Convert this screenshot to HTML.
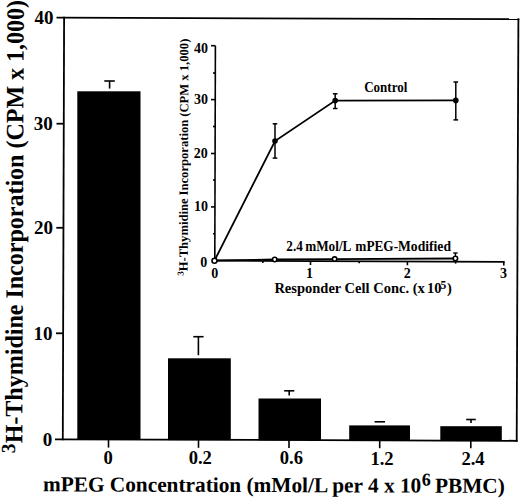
<!DOCTYPE html>
<html><head><meta charset="utf-8">
<style>
html,body{margin:0;padding:0;background:#fff;width:520px;height:499px;overflow:hidden}
svg{display:block}
text{font-family:"Liberation Serif",serif;font-weight:bold;fill:#000}
</style></head>
<body>
<svg width="520" height="499" viewBox="0 0 520 499">
<rect x="0" y="0" width="520" height="499" fill="#fff"/>
<!-- main frame -->
<g stroke="#000" stroke-width="1.8" fill="none">
  <line x1="56.5" y1="17.7" x2="519.3" y2="19.1"/>
  <line x1="518.4" y1="18.2" x2="516.7" y2="441.7"/>
  <line x1="64.1" y1="16.8" x2="62.8" y2="440.2"/>
  <line x1="55" y1="439.3" x2="517.6" y2="440.8"/>
  <line x1="56.5" y1="123.7" x2="63.5" y2="123.7"/>
  <line x1="56.3" y1="227.8" x2="63.2" y2="227.8"/>
  <line x1="56" y1="333.3" x2="63" y2="333.3"/>
</g>
<g stroke="#000" stroke-width="1.6" fill="none">
  <line x1="108.5" y1="439.6" x2="108.5" y2="447.6"/>
  <line x1="198.5" y1="439.8" x2="198.5" y2="447.8"/>
  <line x1="289" y1="440" x2="289" y2="448"/>
  <line x1="379.7" y1="440.3" x2="379.7" y2="448.2"/>
  <line x1="470.8" y1="440.6" x2="470.8" y2="448.3"/>
</g>
<!-- bars -->
<g fill="#000">
  <rect x="77.3" y="91.3" width="63.2" height="348.5"/>
  <rect x="168" y="358.3" width="62.8" height="81.8"/>
  <rect x="258.5" y="398.5" width="62.5" height="41.8"/>
  <rect x="349.2" y="425.4" width="60.8" height="15"/>
  <rect x="440.3" y="426.2" width="61.5" height="14.4"/>
</g>
<!-- error bars -->
<g stroke="#000" stroke-width="1.6" fill="none">
  <line x1="104.3" y1="81" x2="114.8" y2="81"/><line x1="109.6" y1="81" x2="109.6" y2="88.6"/>
  <line x1="193.3" y1="336.7" x2="203.6" y2="336.7"/><line x1="198.4" y1="336.7" x2="198.4" y2="355.2"/>
  <line x1="284.2" y1="390.8" x2="294.3" y2="390.8"/><line x1="289.2" y1="390.8" x2="289.2" y2="395.4"/>
  <line x1="374.6" y1="421.8" x2="385" y2="421.8"/>
  <line x1="466.2" y1="419.5" x2="475.8" y2="419.5"/><line x1="471" y1="419.5" x2="471" y2="423"/>
</g>
<!-- y tick labels -->
<g font-size="19" text-anchor="end">
  <text x="53.4" y="24">40</text>
  <text x="52.8" y="130">30</text>
  <text x="53.1" y="234">20</text>
  <text x="52.6" y="340">10</text>
  <text x="52.2" y="445.8">0</text>
</g>
<!-- x tick labels -->
<g font-size="18.6" text-anchor="middle">
  <text x="108.1" y="463.8">0</text>
  <text x="200.3" y="464.1">0.2</text>
  <text x="291.4" y="464.2">0.6</text>
  <text x="382" y="464.6">1.2</text>
  <text x="473" y="464.6">2.4</text>
</g>
<!-- x title -->
<text transform="translate(43,491.3) rotate(0.2)" font-size="21.3">mPEG Concentration (mMol/L per 4 x 10<tspan font-size="18" dy="-7" dx="0.5">6</tspan><tspan dy="7" dx="-1.5"> </tspan><tspan dx="0.5">PBMC)</tspan></text>
<!-- y title -->
<text transform="translate(22.2,443.3) rotate(-89.8) scale(0.9605,1)" font-size="25"><tspan font-size="20" dy="-7.2" dx="-10.5">3</tspan><tspan dy="7.2" dx="0.5">H-Thymidine Incorporation (CPM x 1,000)</tspan></text>

<!-- inset -->
<g stroke="#000" stroke-width="1.6" fill="none">
  <line x1="215.4" y1="45.7" x2="214.8" y2="260.6"/>
  <line x1="214.5" y1="260.7" x2="504.6" y2="261.9" stroke-width="1.8"/>
  <line x1="211" y1="45.7" x2="215.4" y2="45.7"/>
  <line x1="211" y1="99.6" x2="215.3" y2="99.6"/>
  <line x1="211" y1="153.5" x2="215.2" y2="153.5"/>
  <line x1="211" y1="206.9" x2="215" y2="206.9"/>
  <line x1="213" y1="73" x2="215.3" y2="73"/>
  <line x1="213" y1="126.5" x2="215.2" y2="126.5"/>
  <line x1="213" y1="180" x2="215.1" y2="180"/>
  <line x1="213" y1="233.7" x2="215" y2="233.7"/>
  <line x1="310.5" y1="261" x2="310.5" y2="265"/>
  <line x1="407.4" y1="261.4" x2="407.4" y2="265.3"/>
  <line x1="503.8" y1="261.8" x2="503.8" y2="265.5"/>
  <line x1="262.8" y1="260.8" x2="262.8" y2="263"/>
  <line x1="359.2" y1="261.2" x2="359.2" y2="263.3"/>
  <line x1="455.6" y1="261.6" x2="455.6" y2="263.6"/>
</g>
<g font-size="14" text-anchor="end">
  <text x="208.1" y="52.6">40</text>
  <text x="208.1" y="103.5">30</text>
  <text x="207.8" y="157.8">20</text>
  <text x="207.9" y="211.3">10</text>
  <text x="207.2" y="267.1">0</text>
</g>
<g font-size="14" text-anchor="middle">
  <text x="214.8" y="277.6">0</text>
  <text x="309.6" y="277.8">1</text>
  <text x="407.3" y="277.8">2</text>
  <text x="503.5" y="278">3</text>
</g>
<text x="274.4" y="292.9" font-size="14.5">Responder Cell Conc. (x<tspan dx="-1.5"> 10</tspan><tspan font-size="11.5" dy="-3.6" dx="-1">5</tspan><tspan dy="3.6" dx="0.9">)</tspan></text>
<text transform="translate(187.6,270.3) rotate(-89.8)" font-size="12.6"><tspan font-size="9" dy="-4" dx="-5.5">3</tspan><tspan dy="4">H-Thymidine Incorporation (CPM x 1,000)</tspan></text>
<!-- control series -->
<polyline points="214.5,260.6 275,141 335.2,100.6 455.8,100.4" stroke="#000" stroke-width="1.8" fill="none"/>
<g stroke="#000" stroke-width="1.5" fill="none">
  <line x1="275" y1="123.8" x2="275" y2="158.1"/><line x1="272.7" y1="123.8" x2="277.3" y2="123.8"/><line x1="272.7" y1="158.1" x2="277.3" y2="158.1"/>
  <line x1="335.2" y1="93.8" x2="335.2" y2="108.5"/><line x1="332.9" y1="93.8" x2="337.5" y2="93.8"/><line x1="332.9" y1="108.5" x2="337.5" y2="108.5"/>
  <line x1="455.8" y1="82" x2="455.8" y2="119.9"/><line x1="453.5" y1="82" x2="458.1" y2="82"/><line x1="453.5" y1="119.9" x2="458.1" y2="119.9"/>
</g>
<g fill="#000">
  <circle cx="275" cy="141" r="2.8"/>
  <circle cx="335.2" cy="100.6" r="2.8"/>
  <circle cx="455.8" cy="100.4" r="2.8"/>
</g>
<text transform="translate(364.2,92) scale(0.93,1)" font-size="14">Control</text>
<!-- mPEG series -->
<polyline points="214.5,260.5 274.7,259.5 334.6,259.1 455.4,258.5" stroke="#000" stroke-width="1.8" fill="none"/>
<g stroke="#000" stroke-width="1.4" fill="none">
  <line x1="455.4" y1="253" x2="455.4" y2="261.5"/><line x1="453.2" y1="253" x2="457.6" y2="253"/>
</g>
<g fill="#fff" stroke="#000" stroke-width="1.6">
  <circle cx="214.5" cy="260.7" r="2.5"/>
  <circle cx="274.7" cy="259.5" r="2.2"/>
  <circle cx="334.6" cy="259.1" r="2.2"/>
  <circle cx="455.4" cy="258.5" r="2.2"/>
</g>
<text transform="translate(286.3,250.7) scale(0.93,1)" font-size="14.2">2.4<tspan dx="-1"> mMol/L</tspan></text>
<text transform="translate(355.3,250.8) scale(0.937,1)" font-size="14.2">mPEG-</text>
<text transform="translate(398,250.9) scale(0.96,1)" font-size="14.2">Modified</text>
</svg>
</body></html>
